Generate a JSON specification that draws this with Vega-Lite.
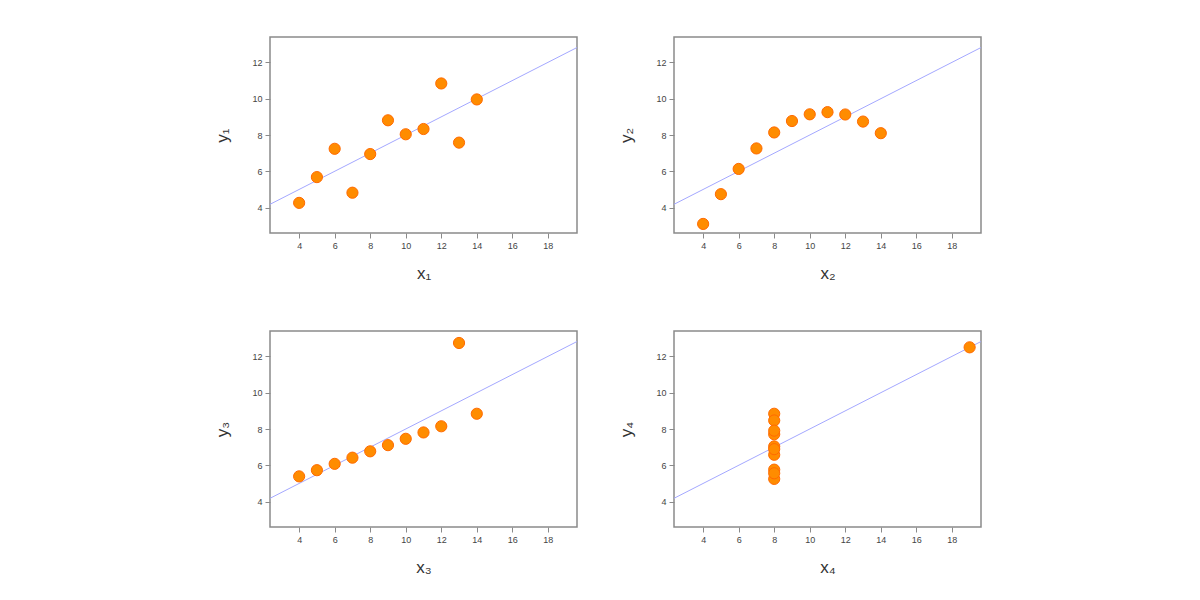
{
  "$schema": "https://vega.github.io/schema/vega-lite/v6.json",
  "padding": {"left": 213, "top": 36, "right": 5, "bottom": 5},
  "bounds": "flush",
  "spacing": {"row": 98, "column": 97},
  "columns": 2,
  "background": "white",
  "datasets": {
    "pts": [
      {"set": 1, "x": 10, "y": 8.04}, {"set": 1, "x": 8, "y": 6.95}, {"set": 1, "x": 13, "y": 7.58}, {"set": 1, "x": 9, "y": 8.81}, {"set": 1, "x": 11, "y": 8.33}, {"set": 1, "x": 14, "y": 9.96}, {"set": 1, "x": 6, "y": 7.24}, {"set": 1, "x": 4, "y": 4.26}, {"set": 1, "x": 12, "y": 10.84}, {"set": 1, "x": 7, "y": 4.82}, {"set": 1, "x": 5, "y": 5.68},
      {"set": 2, "x": 10, "y": 9.14}, {"set": 2, "x": 8, "y": 8.14}, {"set": 2, "x": 13, "y": 8.74}, {"set": 2, "x": 9, "y": 8.77}, {"set": 2, "x": 11, "y": 9.26}, {"set": 2, "x": 14, "y": 8.10}, {"set": 2, "x": 6, "y": 6.13}, {"set": 2, "x": 4, "y": 3.10}, {"set": 2, "x": 12, "y": 9.13}, {"set": 2, "x": 7, "y": 7.26}, {"set": 2, "x": 5, "y": 4.74},
      {"set": 3, "x": 10, "y": 7.46}, {"set": 3, "x": 8, "y": 6.77}, {"set": 3, "x": 13, "y": 12.74}, {"set": 3, "x": 9, "y": 7.11}, {"set": 3, "x": 11, "y": 7.81}, {"set": 3, "x": 14, "y": 8.84}, {"set": 3, "x": 6, "y": 6.08}, {"set": 3, "x": 4, "y": 5.39}, {"set": 3, "x": 12, "y": 8.15}, {"set": 3, "x": 7, "y": 6.42}, {"set": 3, "x": 5, "y": 5.73},
      {"set": 4, "x": 8, "y": 6.58}, {"set": 4, "x": 8, "y": 5.76}, {"set": 4, "x": 8, "y": 7.71}, {"set": 4, "x": 8, "y": 8.84}, {"set": 4, "x": 8, "y": 8.47}, {"set": 4, "x": 8, "y": 7.04}, {"set": 4, "x": 8, "y": 5.25}, {"set": 4, "x": 19, "y": 12.50}, {"set": 4, "x": 8, "y": 5.56}, {"set": 4, "x": 8, "y": 7.91}, {"set": 4, "x": 8, "y": 6.89}
    ],
    "fit": [
      {"x": 2.36, "y": 4.18}, {"x": 19.64, "y": 12.82}
    ]
  },
  "config": {
    "font": "Liberation Sans",
    "view": {"stroke": "#8a8a8a", "strokeWidth": 1.5},
    "axis": {
      "domain": false, "grid": false,
      "tickColor": "#8a8a8a", "tickSize": 5, "tickWidth": 1,
      "labelColor": "#444444", "labelFontSize": 9, "labelPadding": 3,
      "titleFontSize": 17, "titleFontWeight": "normal", "titleColor": "#333333"
    },
    "axisX": {"titlePadding": 15},
    "axisY": {"titlePadding": 20, "labelAngle": 0}
  },
  "concat": [
    {
      "width": 307, "height": 196,
      "layer": [
        {"data": {"name": "fit"}, "mark": {"type": "line", "color": "#a4a8ff", "strokeWidth": 1, "clip": true},
         "encoding": {"x": {"field": "x", "type": "quantitative", "scale": {"domain": [2.36, 19.64], "nice": false, "zero": false}, "axis": {"values": [4,6,8,10,12,14,16,18], "title": "x₁"}},
                      "y": {"field": "y", "type": "quantitative", "scale": {"domain": [2.6, 13.4], "nice": false, "zero": false}, "axis": {"values": [4,6,8,10,12], "title": "y₁"}}}},
        {"data": {"name": "pts"}, "transform": [{"filter": "datum.set == 1"}],
         "mark": {"type": "point", "filled": true, "shape": "circle", "size": 125, "fill": "#ff8c00", "stroke": "#ff6a00", "strokeWidth": 1, "opacity": 1},
         "encoding": {"x": {"field": "x", "type": "quantitative"}, "y": {"field": "y", "type": "quantitative"}}}
      ]
    },
    {
      "width": 307, "height": 196,
      "layer": [
        {"data": {"name": "fit"}, "mark": {"type": "line", "color": "#a4a8ff", "strokeWidth": 1, "clip": true},
         "encoding": {"x": {"field": "x", "type": "quantitative", "scale": {"domain": [2.36, 19.64], "nice": false, "zero": false}, "axis": {"values": [4,6,8,10,12,14,16,18], "title": "x₂"}},
                      "y": {"field": "y", "type": "quantitative", "scale": {"domain": [2.6, 13.4], "nice": false, "zero": false}, "axis": {"values": [4,6,8,10,12], "title": "y₂"}}}},
        {"data": {"name": "pts"}, "transform": [{"filter": "datum.set == 2"}],
         "mark": {"type": "point", "filled": true, "shape": "circle", "size": 125, "fill": "#ff8c00", "stroke": "#ff6a00", "strokeWidth": 1, "opacity": 1},
         "encoding": {"x": {"field": "x", "type": "quantitative"}, "y": {"field": "y", "type": "quantitative"}}}
      ]
    },
    {
      "width": 307, "height": 196,
      "layer": [
        {"data": {"name": "fit"}, "mark": {"type": "line", "color": "#a4a8ff", "strokeWidth": 1, "clip": true},
         "encoding": {"x": {"field": "x", "type": "quantitative", "scale": {"domain": [2.36, 19.64], "nice": false, "zero": false}, "axis": {"values": [4,6,8,10,12,14,16,18], "title": "x₃"}},
                      "y": {"field": "y", "type": "quantitative", "scale": {"domain": [2.6, 13.4], "nice": false, "zero": false}, "axis": {"values": [4,6,8,10,12], "title": "y₃"}}}},
        {"data": {"name": "pts"}, "transform": [{"filter": "datum.set == 3"}],
         "mark": {"type": "point", "filled": true, "shape": "circle", "size": 125, "fill": "#ff8c00", "stroke": "#ff6a00", "strokeWidth": 1, "opacity": 1},
         "encoding": {"x": {"field": "x", "type": "quantitative"}, "y": {"field": "y", "type": "quantitative"}}}
      ]
    },
    {
      "width": 307, "height": 196,
      "layer": [
        {"data": {"name": "fit"}, "mark": {"type": "line", "color": "#a4a8ff", "strokeWidth": 1, "clip": true},
         "encoding": {"x": {"field": "x", "type": "quantitative", "scale": {"domain": [2.36, 19.64], "nice": false, "zero": false}, "axis": {"values": [4,6,8,10,12,14,16,18], "title": "x₄"}},
                      "y": {"field": "y", "type": "quantitative", "scale": {"domain": [2.6, 13.4], "nice": false, "zero": false}, "axis": {"values": [4,6,8,10,12], "title": "y₄"}}}},
        {"data": {"name": "pts"}, "transform": [{"filter": "datum.set == 4"}],
         "mark": {"type": "point", "filled": true, "shape": "circle", "size": 125, "fill": "#ff8c00", "stroke": "#ff6a00", "strokeWidth": 1, "opacity": 1},
         "encoding": {"x": {"field": "x", "type": "quantitative"}, "y": {"field": "y", "type": "quantitative"}}}
      ]
    }
  ]
}
